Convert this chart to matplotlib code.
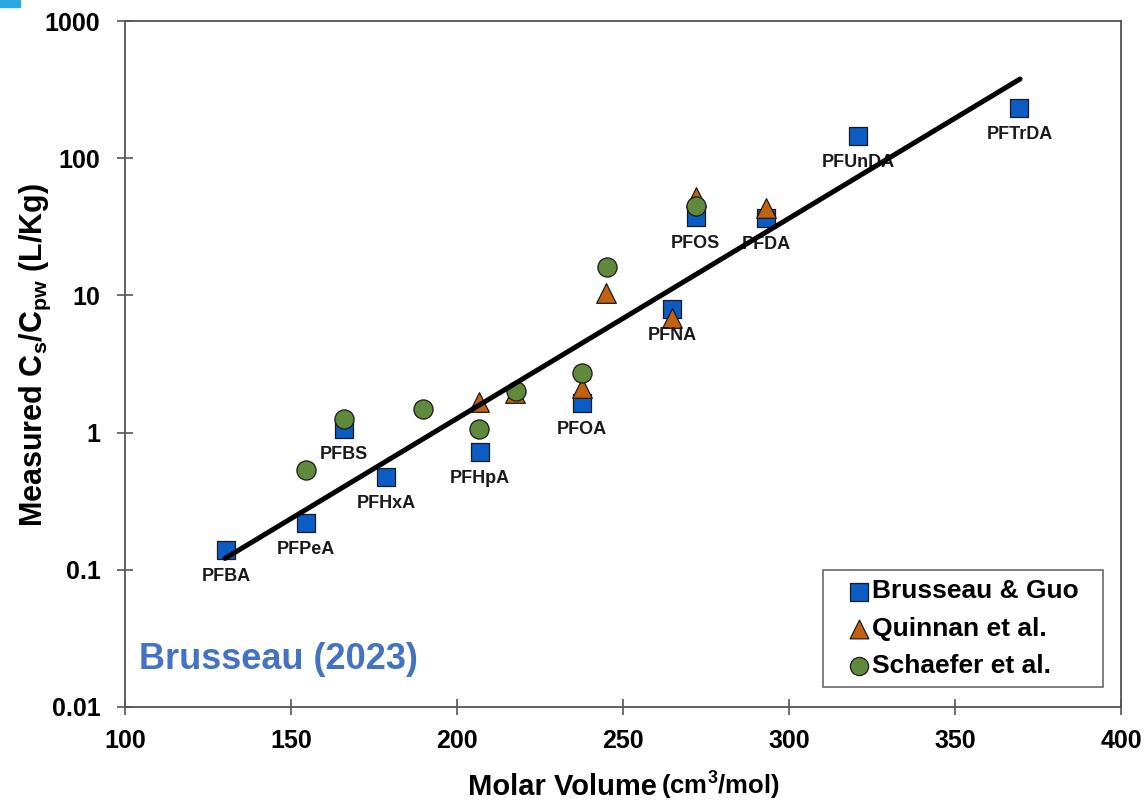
import numpy as np
import matplotlib
matplotlib.use("Agg")
import matplotlib.pyplot as plt
from matplotlib.patches import Rectangle

plt.rcParams['font.family'] = ['Liberation Sans', 'DejaVu Sans']
plt.rcParams['font.weight'] = 'bold'
plt.rcParams['mathtext.fontset'] = 'custom'
plt.rcParams['mathtext.rm'] = 'Liberation Sans:bold'
plt.rcParams['mathtext.bf'] = 'Liberation Sans:bold'
plt.rcParams['mathtext.it'] = 'Liberation Sans:bold'
plt.rcParams['mathtext.default'] = 'bf'

# Brusseau & Guo (squares, labelled)
bg_names = ["PFBA", "PFPeA", "PFBS", "PFHxA", "PFHpA", "PFOA", "PFNA",
            "PFOS", "PFDA", "PFUnDA", "PFTrDA"]
bg_x = [130.4, 154.5, 166.0, 178.6, 206.9, 237.6, 264.7, 271.9, 293.1, 320.9, 369.4]
bg_y = [0.139, 0.219, 1.07, 0.475, 0.72, 1.65, 7.9, 37.5, 36.5, 145, 231]

# Quinnan et al. (triangles)
qu_x = [206.7, 217.5, 237.6, 244.9, 264.7, 271.9, 293.1]
qu_y = [1.68, 1.95, 2.10, 10.4, 6.9, 52.0, 43.6]

# Schaefer et al. (circles)
sc_x = [154.5, 166.0, 189.9, 206.7, 217.8, 237.6, 245.1, 271.9]
sc_y = [0.53, 1.25, 1.49, 1.06, 2.02, 2.73, 16.2, 44.8]

# regression line end points
fit_x = [130.1, 369.6]
fit_y = [0.121, 378]

fig = plt.figure(figsize=(11.46, 8.02), dpi=100)
ax = fig.add_axes([0.1091, 0.1185, 0.8691, 0.8553])

ax.scatter(bg_x, bg_y, marker='s', s=175, c='#0B5CC4', edgecolors='#1a1a1a',
           linewidths=0.9, zorder=3, label='Brusseau & Guo')
ax.scatter(qu_x, qu_y, marker='^', s=200, c='#C2620F', edgecolors='#1a1a1a',
           linewidths=0.9, zorder=4, label='Quinnan et al.')
ax.scatter(sc_x, sc_y, marker='o', s=190, c='#5F8A3C', edgecolors='#1a1a1a',
           linewidths=0.9, zorder=5, label='Schaefer et al.')

for name, x, y in zip(bg_names, bg_x, bg_y):
    ax.annotate(name, (x, y), xytext=(0, -19), textcoords='offset points',
                ha='center', va='center', fontsize=13, fontweight='bold',
                color='#1a1a1a', zorder=6)

ax.plot(fit_x, fit_y, color='black', lw=3.6, solid_capstyle='round', zorder=7)

ax.set_yscale('log')
ax.set_xlim(100, 400)
ax.set_ylim(0.01, 1000)
ax.set_xticks([100, 150, 200, 250, 300, 350, 400])
ax.set_yticks([0.01, 0.1, 1, 10, 100, 1000])
ax.set_yticklabels(['0.01', '0.1', '1', '10', '100', '1000'])
ax.yaxis.set_minor_locator(matplotlib.ticker.NullLocator())
ax.tick_params(axis='both', which='major', direction='inout', length=11.5,
               width=1.2, color='#555555', labelsize=18)
ax.tick_params(axis='y', pad=12)
ax.tick_params(axis='x', pad=10)
for lab in ax.get_xticklabels() + ax.get_yticklabels():
    lab.set_fontweight('bold')
for sp in ax.spines.values():
    sp.set_color('#555555')
    sp.set_linewidth(1.3)

ax.set_ylabel(r'Measured C$_{s}$/C$_{pw}$ (L/Kg)', fontsize=22, fontweight='bold')
ax.yaxis.set_label_coords(-0.0723, 0.513)
ax.set_xlabel('')
fig.text(0.5733, 0.009, 'Molar Volume', fontsize=21, fontweight='bold',
         ha='right', va='baseline')
fig.text(0.577, 0.009, r'(cm$^{3}$/mol)', fontsize=18.5, fontweight='bold',
         ha='left', va='baseline')

ax.text(0.1536, 0.0685, 'Brusseau (2023)', transform=ax.transAxes, fontsize=26,
        fontweight='bold', color='#4472C4', ha='center', va='center')

leg = ax.legend(loc='lower left', bbox_to_anchor=(0.7008, 0.029, 0.2811, 0.2),
                mode='expand', borderaxespad=0,
                frameon=True, fancybox=False, handletextpad=-0.49,
                handlelength=2.0, labelspacing=0.5, borderpad=0.35,
                markerscale=0.95, prop={'weight': 'bold', 'size': 19})
leg.get_frame().set_edgecolor('#444444')
leg.get_frame().set_linewidth(1.2)

fig.patches.append(Rectangle((0, 1 - 7 / 802), 20 / 1146, 7 / 802,
                             transform=fig.transFigure, color='#29A8E0'))

fig.savefig('out.png', dpi=100)
